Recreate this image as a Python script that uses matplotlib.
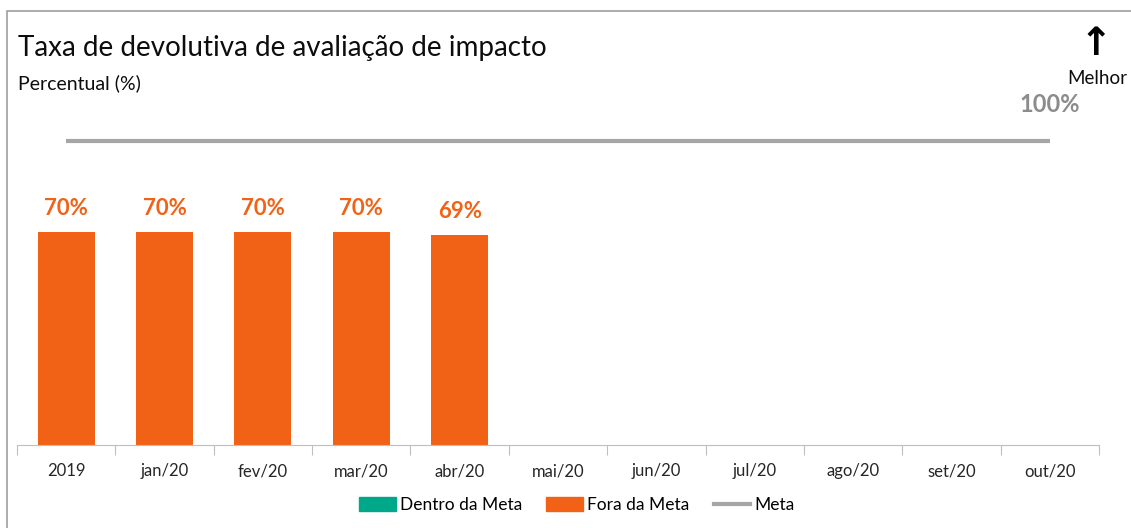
import matplotlib.pyplot as plt
from matplotlib.patches import Patch, Rectangle
from matplotlib.lines import Line2D

categorias = ['2019', 'jan/20', 'fev/20', 'mar/20', 'abr/20', 'mai/20',
              'jun/20', 'jul/20', 'ago/20', 'set/20', 'out/20']
valores = [70, 70, 70, 70, 69, None, None, None, None, None, None]
meta = [100] * len(categorias)

laranja = '#F26216'
verde = '#00A88A'
cinza = '#A6A6A6'

plt.rcParams['font.family'] = ['Lato', 'DejaVu Sans']

W, H = 1131, 528
fig = plt.figure(figsize=(W / 100, H / 100), dpi=100)

# moldura (so aparecem topo e lado esquerdo)
fig.patches.append(Rectangle((7 / W, -0.1), 1.2, 1 - 11 / H + 0.1,
                             transform=fig.transFigure, fill=False,
                             edgecolor='#9E9E9E', linewidth=1.2))

ax = fig.add_axes([17 / W, 83 / H, (1099 - 17) / W, (445 - 111) / H])
x = list(range(len(categorias)))

for i, v in enumerate(valores):
    if v is None:
        continue
    ax.bar(i, v, width=0.58, color=laranja)
    ax.text(i, v + 4.5, f'{v}%', ha='center', va='bottom', color=laranja,
            fontsize=16, fontweight='bold')

ax.plot(x, meta, color=cinza, linewidth=3, solid_capstyle='butt')
ax.text(x[-1], meta[-1] + 8.5, f'{meta[-1]}%', ha='center', va='bottom',
        color='#8C8C8C', fontsize=17, fontweight='bold')

ax.set_xlim(-0.5, len(categorias) - 0.5)
ax.set_ylim(0, 110)
ax.set_yticks([])
for s in ['top', 'right', 'left']:
    ax.spines[s].set_visible(False)
ax.spines['bottom'].set_color('#BFBFBF')
ax.set_xticks([i - 0.5 for i in range(len(categorias) + 1)])
ax.set_xticklabels([])
ax.set_xticks(x, minor=True)
ax.set_xticklabels(categorias, minor=True)
ax.tick_params(axis='x', which='major', length=7, color='#BFBFBF')
ax.tick_params(axis='x', which='minor', length=0, pad=13, labelsize=12,
               labelcolor='#262626')

fig.text(18 / W, 1 - 48 / H, 'Taxa de devolutiva de avaliação de impacto',
         fontsize=20, va='center', ha='left', color='#0D0D0D')
fig.text(18 / W, 1 - 83 / H, 'Percentual (%)', fontsize=14, va='center',
         ha='left', color='#0D0D0D')
fig.text(1096 / W, 1 - 44 / H, '↑', fontsize=28, ha='center', va='center',
         family='DejaVu Sans', fontweight='bold', color='black')
fig.text(1097 / W, 1 - 78 / H, 'Melhor', fontsize=13.5, ha='center',
         va='center', color='#0D0D0D')

handles = [Patch(color=verde), Patch(color=laranja),
           Line2D([], [], color=cinza, linewidth=3)]
fig.legend(handles, ['Dentro da Meta', 'Fora da Meta', 'Meta'],
           loc='center', bbox_to_anchor=(577 / W, 1 - 505 / H), ncol=3,
           frameon=False, fontsize=12.5, handlelength=2.1, handleheight=0.8,
           columnspacing=1.4, handletextpad=0.25)

fig.savefig('out.png', dpi=100)
